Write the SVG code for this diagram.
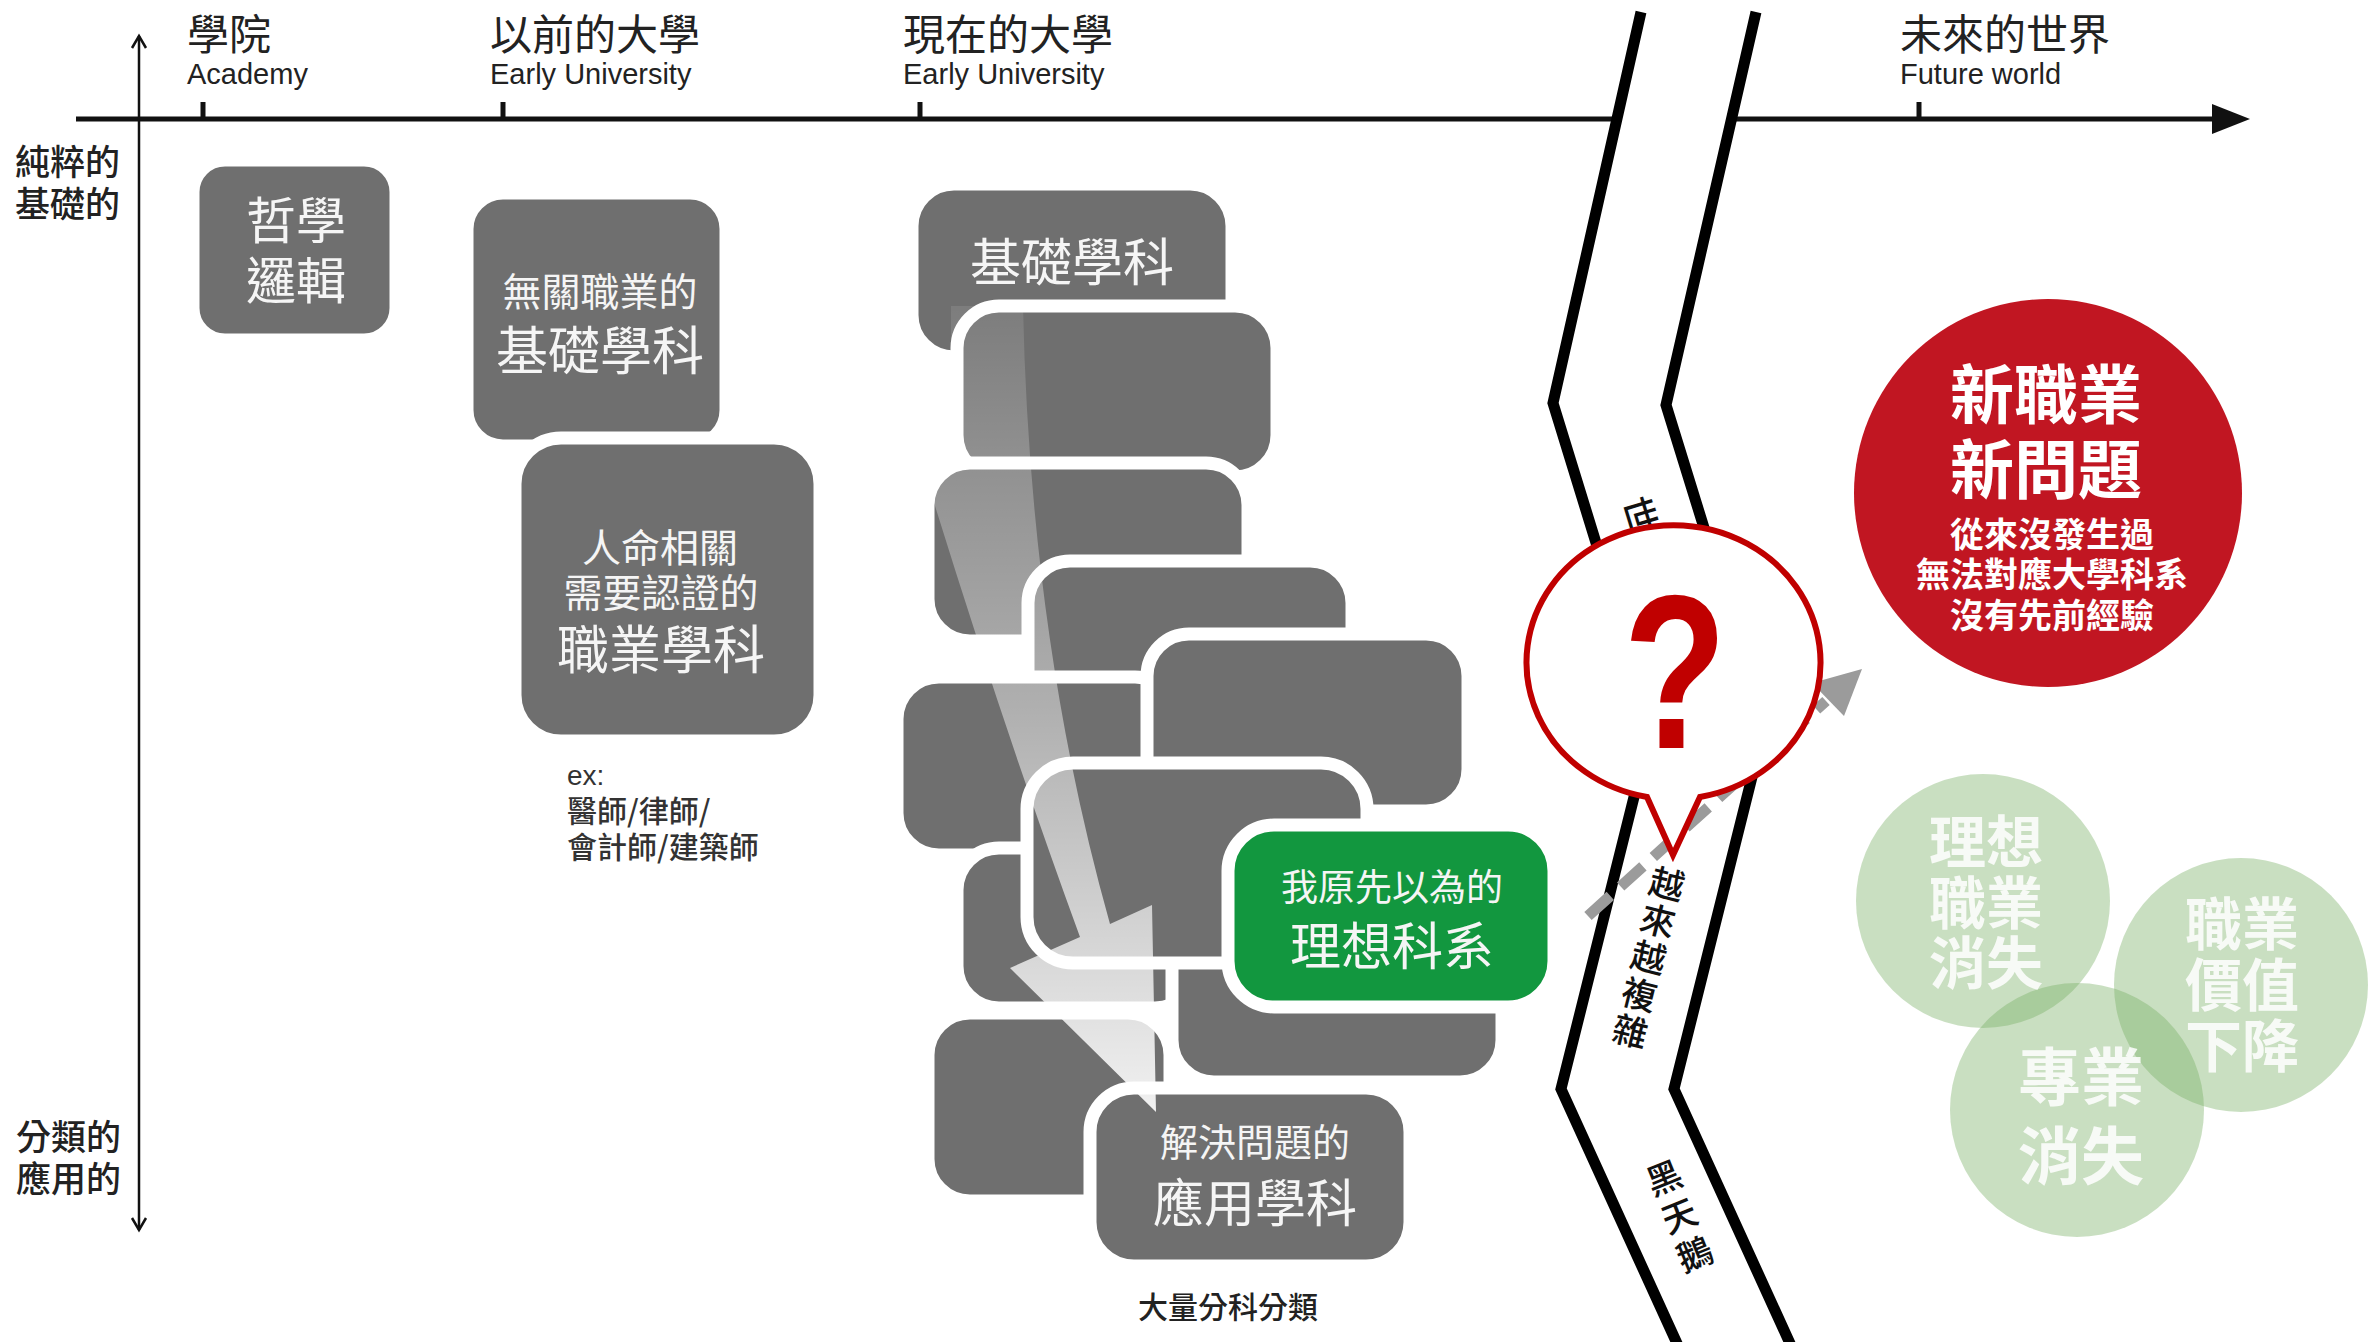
<svg xmlns="http://www.w3.org/2000/svg" width="2368" height="1342" viewBox="0 0 2368 1342">
<defs>
<style>
.cjk{font-family:"Noto Sans CJK TC","Noto Sans CJK SC",sans-serif}
.lat{font-family:"Liberation Sans",Arial,sans-serif}
.hd{font-size:42px;fill:#222}
.en{font-size:29px;fill:#222}
.side{font-size:35px;fill:#222;font-weight:500}
.box{fill:#6f6f6f;stroke:#fff;stroke-width:13}
.wt{fill:#f5f5f5;text-anchor:middle}
.brk{fill:none;stroke:#000;stroke-width:11;stroke-linejoin:miter}
.gc{fill:rgb(120,175,100);fill-opacity:0.4}
.gt{fill:#fff;fill-opacity:0.85;font-weight:700;text-anchor:middle}
.rt{fill:#fff;font-weight:700;text-anchor:middle}
.ch{font-size:35px;fill:#111;font-weight:500;text-anchor:middle}
</style>
<linearGradient id="band" x1="0" y1="310" x2="0" y2="1110" gradientUnits="userSpaceOnUse">
<stop offset="0" stop-color="#fff" stop-opacity="0.1"/>
<stop offset="0.5" stop-color="#fff" stop-opacity="0.45"/>
<stop offset="1" stop-color="#fff" stop-opacity="0.9"/>
</linearGradient>
<clipPath id="bandclip"><polygon points="951,300 1300,300 1300,1200 850,1200 850,362 951,362"/></clipPath>
</defs>
<rect width="2368" height="1342" fill="#fff"/>

<g id="axes">
<line x1="76" y1="119" x2="1617" y2="119" stroke="#111" stroke-width="5"/>
<line x1="1732" y1="119" x2="2215" y2="119" stroke="#111" stroke-width="5"/>
<polygon points="2212,104 2250,119 2212,134" fill="#111"/>
<g stroke="#111" stroke-width="5">
<line x1="203" y1="102" x2="203" y2="119"/>
<line x1="503" y1="102" x2="503" y2="119"/>
<line x1="920" y1="102" x2="920" y2="119"/>
<line x1="1919" y1="102" x2="1919" y2="119"/>
</g>
<line x1="139" y1="36" x2="139" y2="1230" stroke="#111" stroke-width="2.5"/>
<polyline points="132,48 139,36 146,48" fill="none" stroke="#111" stroke-width="2.5"/>
<polyline points="132,1218 139,1230 146,1218" fill="none" stroke="#111" stroke-width="2.5"/>
</g>

<g id="axis-labels">
<text class="cjk hd" x="187" y="50">學院</text>
<text class="lat en" x="187" y="84">Academy</text>
<text class="cjk hd" x="490" y="50">以前的大學</text>
<text class="lat en" x="490" y="84">Early University</text>
<text class="cjk hd" x="903" y="50">現在的大學</text>
<text class="lat en" x="903" y="84">Early University</text>
<text class="cjk hd" x="1900" y="50">未來的世界</text>
<text class="lat en" x="1900" y="84">Future world</text>
<text class="cjk side" x="15" y="175">純粹的</text>
<text class="cjk side" x="15" y="217">基礎的</text>
<text class="cjk side" x="16" y="1150">分類的</text>
<text class="cjk side" x="16" y="1192">應用的</text>
</g>

<g id="break">
<polyline class="brk" points="1641,12 1553,403 1652,725 1561,1089 1680,1350"/>
<polyline class="brk" points="1756,12 1666,405 1765,725 1674,1089 1793,1350"/>
<g transform="translate(1640,514) rotate(73)"><text class="cjk ch" x="0" y="13">世</text></g>
<g transform="translate(1667,884) rotate(14)">
<text class="cjk ch"><tspan x="0" y="13">越</tspan><tspan x="0" y="51">來</tspan><tspan x="0" y="89">越</tspan><tspan x="0" y="127">複</tspan><tspan x="0" y="165">雜</tspan></text>
</g>
<g transform="translate(1664,1178) rotate(-22)">
<text class="cjk ch"><tspan x="0" y="13">黑</tspan><tspan x="0" y="54">天</tspan><tspan x="0" y="95">鵝</tspan></text>
</g>
</g>

<g id="node-academy">
<rect class="box" x="193" y="160" width="203" height="180" rx="32"/>
<text class="cjk wt" font-size="50"><tspan x="296" y="239">哲學</tspan><tspan x="296" y="299">邏輯</tspan></text>
</g>

<g id="node-basic-old">
<rect class="box" x="467" y="193" width="259" height="253" rx="36"/>
<text class="cjk wt" font-size="39" x="600" y="306">無關職業的</text>
<text class="cjk wt" font-size="52" x="600" y="370">基礎學科</text>
</g>

<g id="node-professional">
<rect class="box" x="515" y="438" width="305" height="303" rx="46"/>
<text class="cjk wt" font-size="39" x="660" y="562">人命相關</text>
<text class="cjk wt" font-size="39" x="661" y="607">需要認證的</text>
<text class="cjk wt" font-size="52" x="661" y="669">職業學科</text>
</g>

<g id="node-examples">
<text class="lat" font-size="28" fill="#333" x="567" y="785">ex:</text>
<text class="cjk" font-size="30" fill="#333" font-weight="500" x="567" y="822">醫師/律師/</text>
<text class="cjk" font-size="30" fill="#333" font-weight="500" x="567" y="858">會計師/建築師</text>
</g>

<g id="node-current-stack">
<rect id="box-a" class="box" x="912" y="184" width="320" height="173" rx="42"/>
<text class="cjk wt" font-size="51" x="1072" y="281">基礎學科</text>
<rect class="box" x="957" y="306" width="320" height="171" rx="42"/>
<rect class="box" x="928" y="463" width="320" height="178" rx="42"/>
<rect class="box" x="1028" y="561" width="324" height="180" rx="42"/>
<rect class="box" x="897" y="677" width="280" height="178" rx="42"/>
<rect class="box" x="1147" y="634" width="321" height="177" rx="42"/>
<rect class="box" x="957" y="848" width="240" height="160" rx="42"/>
<rect class="box" x="928" y="1013" width="242" height="188" rx="42"/>
<rect class="box" x="1172" y="906" width="330" height="176" rx="42"/>
<rect class="box" x="1027" y="763" width="340" height="200" rx="46"/>
<rect class="box" x="1090" y="1088" width="320" height="178" rx="44"/>
<path d="M875,306 L1023,306 Q1030,640 1110,924 L1152,905 L1156,1112 L1010,968 L1080,937 Q975,650 875,306 Z" fill="url(#band)" clip-path="url(#bandclip)"/>
<text class="cjk wt" font-size="38" x="1255" y="1156">解決問題的</text>
<text class="cjk wt" font-size="51" x="1255" y="1222">應用學科</text>
</g>

<g id="node-ideal">
<rect x="1228" y="825" width="326" height="182" rx="46" fill="#12973f" stroke="#fff" stroke-width="13"/>
<text class="cjk wt" font-size="37" x="1392" y="901">我原先以為的</text>
<text class="cjk wt" font-size="51" x="1392" y="965">理想科系</text>
</g>

<g id="node-caption">
<text class="cjk" font-size="30" fill="#222" font-weight="500" text-anchor="middle" x="1228" y="1318">大量分科分類</text>
</g>

<g id="connectors">
<line x1="1588" y1="916" x2="1826" y2="701" stroke="#9b9b9b" stroke-width="11" stroke-dasharray="30 14"/>
<polygon points="1862,669 1844,716 1812,683" fill="#9b9b9b"/>
</g>

<g id="node-question">
<path d="M1647,797 A147,137 0 1 1 1700,797 L1673,855 Z" fill="#fff" stroke="#c00000" stroke-width="6" stroke-linejoin="miter"/>
<text class="lat" font-size="220" font-weight="700" fill="#c00000" text-anchor="middle" transform="translate(1675,748) scale(0.77,1)">?</text>
</g>

<g id="node-new">
<circle cx="2048" cy="493" r="194" fill="#c11622"/>
<text class="cjk rt" font-size="64" x="2046" y="418">新職業</text>
<text class="cjk rt" font-size="64" x="2046" y="493">新問題</text>
<text class="cjk rt" font-size="34" x="2052" y="547">從來沒發生過</text>
<text class="cjk rt" font-size="34" x="2052" y="587">無法對應大學科系</text>
<text class="cjk rt" font-size="34" x="2052" y="628">沒有先前經驗</text>
</g>

<g id="node-ideal-job-gone">
<circle class="gc" cx="1983" cy="901" r="127"/>
</g>
<g id="node-value-down">
<circle class="gc" cx="2241" cy="985" r="127"/>
</g>
<g id="node-pro-gone">
<circle class="gc" cx="2077" cy="1110" r="127"/>
</g>
<g id="circle-texts">
<text class="cjk gt" font-size="57"><tspan x="1986" y="863">理想</tspan><tspan x="1986" y="924">職業</tspan><tspan x="1986" y="984">消失</tspan></text>
<text class="cjk gt" font-size="57"><tspan x="2242" y="945">職業</tspan><tspan x="2242" y="1006">價值</tspan><tspan x="2242" y="1067">下降</tspan></text>
<text class="cjk gt" font-size="63"><tspan x="2081" y="1100">專業</tspan><tspan x="2081" y="1179">消失</tspan></text>
</g>
</svg>
